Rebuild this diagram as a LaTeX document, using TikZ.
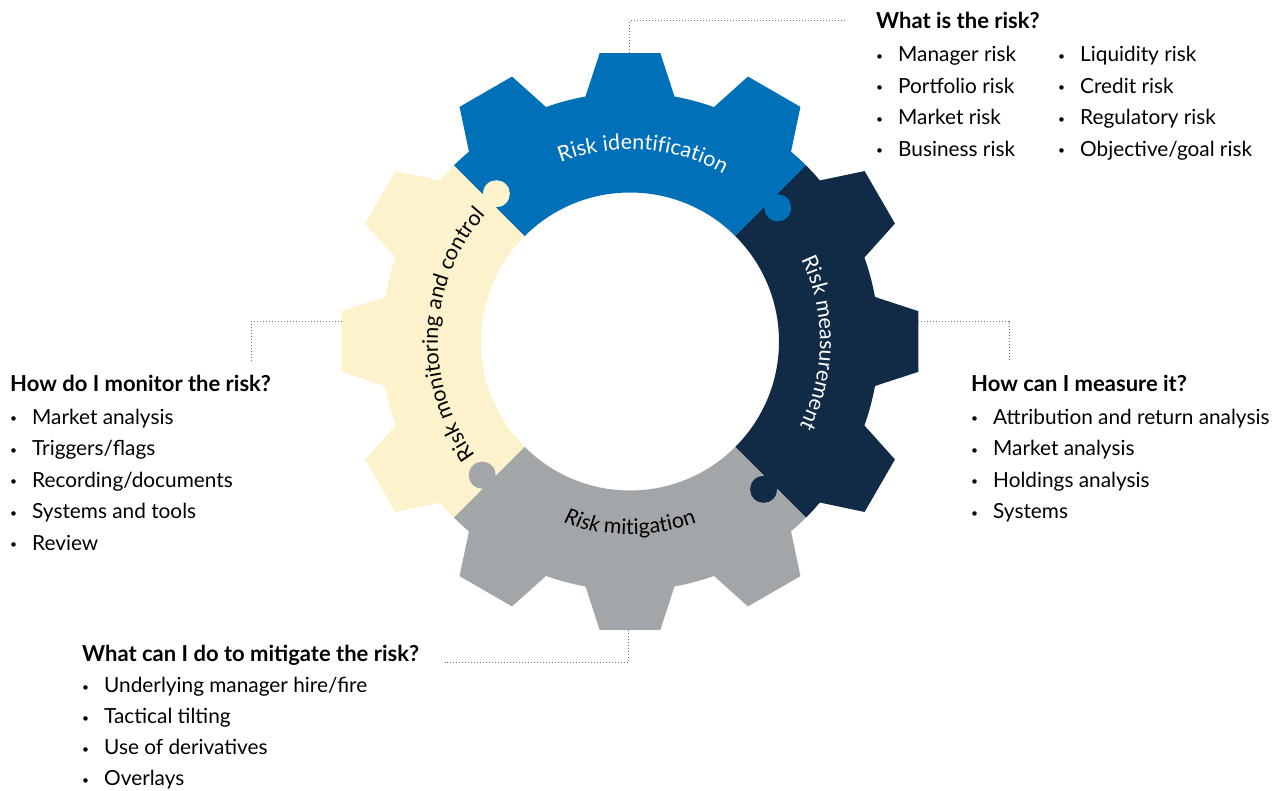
\documentclass[tikz,border=0pt]{standalone}
\usepackage{fontspec}
\setmainfont{Lato}
\usetikzlibrary{decorations.text,positioning}

\definecolor{idblue}{HTML}{0070B8}
\definecolor{msnavy}{HTML}{112B47}
\definecolor{mitgrey}{HTML}{A3A6A9}
\definecolor{moncream}{HTML}{FCF2CB}
\definecolor{leadgrey}{HTML}{707070}

\tikzstyle{head}=[inner sep=0pt, anchor=base west, font=\fontsize{22}{26}\selectfont\bfseries]
\tikzstyle{list}=[inner sep=0pt, anchor=base west, font=\fontsize{20.8}{31.5}\selectfont]
\tikzstyle{leader}=[draw=leadgrey, line width=1pt, dotted]
\tikzstyle{gearlabel}=[decorate, decoration={text along path, text align=center}]

\newcommand{\gearfont}{\fontsize{21.5}{21.5}\selectfont}
\newcommand{\riskbullet}{\makebox[22pt][l]{\raisebox{1.5pt}{\fontsize{12}{12}\selectfont\textbullet}}}
\newcommand{\riskitem}[1]{\riskbullet #1}
\newcommand{\riskpair}[2]{\makebox[182pt][l]{\riskitem{#1}}\riskitem{#2}}
\newcommand{\gearsector}[2]{%
  \fill[#2] (#1:149) -- (#1:249)
    arc[start angle=#1, delta angle=4.7, radius=249]
    -- ({#1+9}:290) -- ({#1+21}:290) -- ({#1+25.3}:249)
    arc[start angle={#1+25.3}, delta angle=9.4, radius=249]
    -- ({#1+39}:290) -- ({#1+51}:290) -- ({#1+55.3}:249)
    arc[start angle={#1+55.3}, delta angle=9.4, radius=249]
    -- ({#1+69}:290) -- ({#1+81}:290) -- ({#1+85.3}:249)
    arc[start angle={#1+85.3}, delta angle=4.7, radius=249]
    -- ({#1+90}:149)
    arc[start angle={#1+90}, delta angle=-90, radius=149] -- cycle;}
\newcommand{\gearknob}[2]{\fill[#2, rotate=#1] (199,-10) circle[radius=13.5];}

\begin{document}
\begin{tikzpicture}[x=1pt, y=1pt]

\useasboundingbox (-630,-448.5) rectangle (647,341.5);

\gearsector{45}{idblue}
\gearsector{-45}{msnavy}
\gearsector{225}{mitgrey}
\gearsector{135}{moncream}

\gearknob{135}{moncream}
\gearknob{45}{idblue}
\gearknob{-45}{msnavy}
\gearknob{225}{mitgrey}

\path [gearlabel, decoration={text color=white, text={|\gearfont|Risk identification}}]
  (135:192) arc[start angle=135, end angle=37, radius=192];
\path [gearlabel, decoration={text color=white, text={|\gearfont|Risk measurement}}]
  (50:190) arc[start angle=50, end angle=-51, radius=190];
\path [gearlabel, decoration={text color=black, text={|\gearfont|Risk monitoring and control}}]
  (225:192) arc[start angle=225, end angle=130, radius=192];
\path [gearlabel, decoration={text color=black, text={|\gearfont\itshape|Risk |\gearfont\upshape|mitigation}}]
  (225:193) arc[start angle=225, end angle=315, radius=193];

\node (idhead) [head] at (246,312.5) {What is the risk?};
\node (idlist) [list] at ([yshift=-33pt]idhead.base west) {\begin{tabular}[t]{@{}l@{}}
  \riskpair{Manager risk}{Liquidity risk}\\
  \riskpair{Portfolio risk}{Credit risk}\\
  \riskpair{Market risk}{Regulatory risk}\\
  \riskpair{Business risk}{Objective/goal risk}
\end{tabular}};

\node (mshead) [head] at (341,-49.5) {How can I measure it?};
\node (mslist) [list] at ([yshift=-33pt]mshead.base west) {\begin{tabular}[t]{@{}l@{}}
  \riskitem{Attribution and return analysis}\\
  \riskitem{Market analysis}\\
  \riskitem{Holdings analysis}\\
  \riskitem{Systems}
\end{tabular}};

\node (monhead) [head] at (-620,-49.5) {How do I monitor the risk?};
\node (monlist) [list] at ([yshift=-33pt]monhead.base west) {\begin{tabular}[t]{@{}l@{}}
  \riskitem{Market analysis}\\
  \riskitem{Triggers/flags}\\
  \riskitem{Recording/documents}\\
  \riskitem{Systems and tools}\\
  \riskitem{Review}
\end{tabular}};

\node (mithead) [head] at (-548,-320) {What can I do to mitigate the risk?};
\node (mitlist) [list, font=\fontsize{20.8}{31}\selectfont] at ([yshift=-31pt]mithead.base west) {\begin{tabular}[t]{@{}l@{}}
  \riskitem{Underlying manager hire/fire}\\
  \riskitem{Tactical tilting}\\
  \riskitem{Use of derivatives}\\
  \riskitem{Overlays}
\end{tabular}};

\coordinate (idtip) at (0,288.4);
\coordinate (mstip) at (288.4,20.5);
\coordinate (msend) at (379,-20.5);
\coordinate (montip) at (-288.4,20.5);
\coordinate (monend) at (-378,-20.5);
\coordinate (mittip) at (-1,-288.4);
\coordinate (mitend) at (-185,-320.5);

\draw [leader] (idtip) |- ([xshift=-31pt]idhead.west);
\draw [leader] (mstip) -| (msend);
\draw [leader] (montip) -| (monend);
\draw [leader] (mittip) |- (mitend);

\end{tikzpicture}
\end{document}
